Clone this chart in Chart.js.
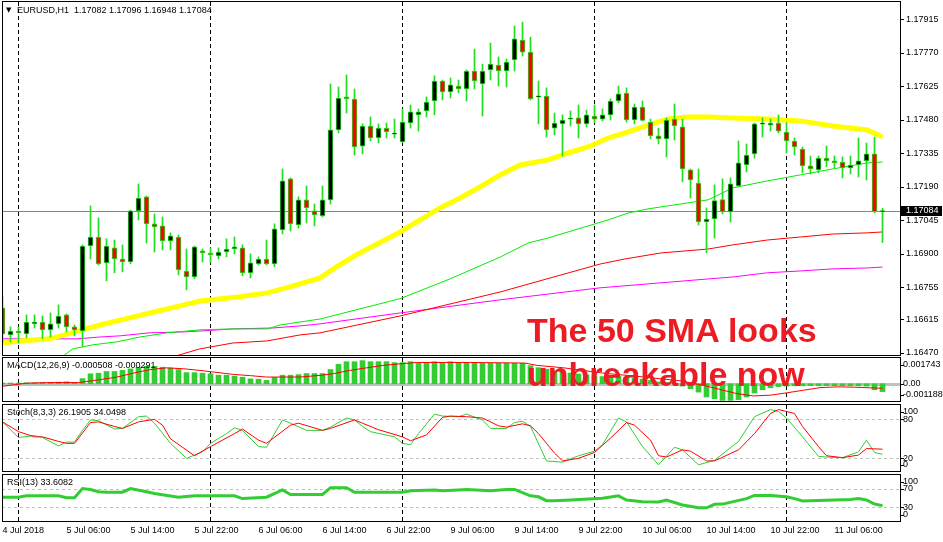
<!DOCTYPE html>
<html>
<head>
<meta charset="utf-8">
<title>EURUSD H1</title>
<script src="https://cdn.jsdelivr.net/npm/chart.js@4.4.1/dist/chart.umd.min.js"></script>
<style>
  html, body { margin: 0; padding: 0; background: #fff; }
  #stage { position: relative; width: 943px; height: 542px; overflow: hidden; background: #fff; }
  #stage canvas { position: absolute; left: 0; top: 0; }
  .note { position: absolute; left: 527px; font: bold 34px "Liberation Sans", Arial, sans-serif; color: #ec1c24; white-space: nowrap; line-height: 1; }
</style>
</head>
<body>
<div id="stage">
  <canvas id="main-chart" width="943" height="542"></canvas>
  <canvas id="macd-chart" width="943" height="542"></canvas>
  <canvas id="stoch-chart" width="943" height="542"></canvas>
  <canvas id="rsi-chart" width="943" height="542"></canvas>
  <div class="note" style="top:313px">The 50 SMA looks</div>
  <div class="note" style="top:357px">unbreakable now</div>
</div>
<script>
// bars: 4 Jul 22:00 .. 11 Jul 12:00, one per hour (index = bar number)
const open = [1.16665,1.16548,1.16565,1.16552,1.16596,1.16604,1.16570,1.16596,1.16635,1.16583,
  1.16565,1.16933,1.16972,1.16860,1.16925,1.16877,1.16864,1.17085,1.17146,1.17029,
  1.17020,1.16955,1.16972,1.16825,1.16799,1.16912,1.16903,1.16890,1.16907,1.16920,
  1.16925,1.16817,1.16856,1.16877,1.16856,1.17003,1.17224,1.17024,1.17133,1.17085,
  1.17063,1.17133,1.17436,1.17579,1.17570,1.17366,1.17453,1.17401,1.17444,1.17418,
  1.17384,1.17466,1.17501,1.17518,1.17561,1.17648,1.17600,1.17626,1.17613,1.17691,
  1.17635,1.17696,1.17717,1.17691,1.17739,1.17825,1.17773,1.17579,1.17583,1.17444,
  1.17462,1.17482,1.17488,1.17462,1.17496,1.17483,1.17501,1.17561,1.17596,1.17479,
  1.17535,1.17470,1.17410,1.17397,1.17483,1.17449,1.17263,1.17206,1.17037,1.17050,
  1.17134,1.17081,1.17193,1.17284,1.17332,1.17461,1.17457,1.17466,1.17427,1.17388,
  1.17353,1.17280,1.17263,1.17314,1.17302,1.17297,1.17271,1.17284,1.17302,1.17332,
  1.17082];
const high = [1.16713,1.16583,1.16583,1.16635,1.16635,1.16630,1.16643,1.16678,1.16639,1.16591,
  1.16938,1.17107,1.17055,1.16964,1.16959,1.16938,1.17089,1.17202,1.17150,1.17072,
  1.17059,1.16990,1.16981,1.16920,1.16933,1.16920,1.16925,1.16925,1.16964,1.16972,
  1.16938,1.16899,1.16886,1.16959,1.17029,1.17267,1.17228,1.17146,1.17193,1.17115,
  1.17193,1.17635,1.17622,1.17674,1.17613,1.17462,1.17492,1.17462,1.17466,1.17483,
  1.17527,1.17544,1.17527,1.17579,1.17670,1.17652,1.17661,1.17652,1.17696,1.17786,
  1.17721,1.17812,1.17752,1.17743,1.17886,1.17903,1.17838,1.17648,1.17618,1.17509,
  1.17501,1.17518,1.17544,1.17522,1.17544,1.17527,1.17570,1.17626,1.17618,1.17548,
  1.17561,1.17483,1.17444,1.17488,1.17548,1.17483,1.17267,1.17267,1.17098,1.17198,
  1.17224,1.17228,1.17388,1.17375,1.17466,1.17488,1.17483,1.17501,1.17466,1.17401,
  1.17362,1.17323,1.17323,1.17366,1.17323,1.17319,1.17323,1.17401,1.17379,1.17405,
  1.17096];
const low = [1.16518,1.16518,1.16513,1.16535,1.16578,1.16531,1.16539,1.16578,1.16561,1.16544,
  1.16496,1.16877,1.16851,1.16782,1.16817,1.16821,1.16856,1.17046,1.16946,1.16907,
  1.16916,1.16916,1.16808,1.16743,1.16791,1.16864,1.16860,1.16877,1.16886,1.16899,
  1.16804,1.16795,1.16851,1.16852,1.16843,1.16985,1.16998,1.17011,1.17033,1.17020,
  1.17059,1.17115,1.17423,1.17509,1.17327,1.17332,1.17388,1.17379,1.17401,1.17401,
  1.17380,1.17444,1.17431,1.17492,1.17501,1.17566,1.17574,1.17596,1.17561,1.17613,
  1.17496,1.17652,1.17626,1.17622,1.17691,1.17756,1.17566,1.17462,1.17405,1.17414,
  1.17323,1.17453,1.17401,1.17449,1.17466,1.17475,1.17479,1.17553,1.17470,1.17462,
  1.17475,1.17397,1.17375,1.17319,1.17392,1.17211,1.17141,1.17024,1.16903,1.16968,
  1.17072,1.17037,1.17189,1.17254,1.17314,1.17405,1.17431,1.17423,1.17336,1.17327,
  1.17250,1.17245,1.17250,1.17276,1.17271,1.17228,1.17245,1.17232,1.17219,1.17076,
  1.16948];
const close = [1.16552,1.16565,1.16557,1.16604,1.16604,1.16570,1.16596,1.16630,1.16583,1.16570,
  1.16933,1.16972,1.16856,1.16933,1.16877,1.16864,1.17085,1.17141,1.17029,1.17016,
  1.16955,1.16977,1.16830,1.16799,1.16929,1.16903,1.16894,1.16907,1.16920,1.16929,
  1.16817,1.16860,1.16877,1.16856,1.17007,1.17215,1.17029,1.17133,1.17098,1.17068,
  1.17133,1.17436,1.17574,1.17570,1.17362,1.17453,1.17401,1.17444,1.17427,1.17419,
  1.17470,1.17514,1.17514,1.17557,1.17648,1.17600,1.17631,1.17613,1.17691,1.17648,
  1.17691,1.17721,1.17691,1.17730,1.17830,1.17773,1.17570,1.17583,1.17436,1.17466,
  1.17479,1.17484,1.17462,1.17501,1.17483,1.17501,1.17561,1.17592,1.17479,1.17535,
  1.17477,1.17410,1.17397,1.17479,1.17453,1.17267,1.17219,1.17037,1.17050,1.17130,
  1.17081,1.17202,1.17293,1.17327,1.17462,1.17463,1.17466,1.17431,1.17388,1.17362,
  1.17280,1.17267,1.17314,1.17302,1.17293,1.17271,1.17284,1.17302,1.17332,1.17082,
  1.17084];

// moving averages: [bar, price]
const sma50 = [[0,1.16513],[2.2,1.16522],[5.9,1.16531],[10,1.16570],[12.2,1.16591],[15.9,1.16622],
  [18.4,1.16643],[22.2,1.16674],[24.7,1.16695],[29.7,1.16713],[33.1,1.16730],[35.9,1.16756],
  [39.7,1.16795],[41.7,1.16842],[44.2,1.16894],[49.7,1.16994],[54.7,1.17098],[57.2,1.17141],
  [59.7,1.17189],[62.2,1.17241],[64.7,1.17284],[68.2,1.17306],[70.7,1.17336],[73.2,1.17362],
  [75.7,1.17401],[78.2,1.17427],[80.7,1.17457],[83.2,1.17483],[85.7,1.17492],[88.2,1.17492],
  [91.3,1.17488],[95.6,1.17483],[99.7,1.17475],[103.8,1.17453],[108.1,1.17436],[110,1.17405]];
const maLime = [[7.5,1.16455],[8.8,1.16488],[11.3,1.16505],[14.3,1.16518],[17.2,1.16539],[20.6,1.16557],
  [24.7,1.16570],[28.8,1.16574],[33.1,1.16574],[34.7,1.16591],[37.2,1.16604],[39.7,1.16617],
  [49.7,1.16705],[55.9,1.16790],[62.2,1.16885],[65.7,1.16946],[68.2,1.16968],[70.7,1.16994],
  [73.2,1.17020],[75.7,1.17046],[78.2,1.17076],[80.7,1.17094],[83.2,1.17107],[85.7,1.17120],
  [88.2,1.17133],[91.3,1.17185],[95.6,1.17215],[99.7,1.17241],[103.8,1.17267],[108.1,1.17293],[110,1.17297]];
const maRed = [[21.5,1.16455],[24.6,1.16487],[28.8,1.16513],[33.1,1.16522],[37.2,1.16548],[39.7,1.16557],
  [49.7,1.16630],[62.2,1.16734],[74.7,1.16855],[77.8,1.16877],[82.3,1.16903],[88.2,1.16920],
  [91.3,1.16938],[95.6,1.16959],[99.7,1.16972],[103.8,1.16985],[108.1,1.16990],[110,1.16994]];
const maMagenta = [[-0.5,1.16531],[9.3,1.16531],[12.2,1.16539],[14.7,1.16544],[18.4,1.16557],[22.6,1.16561],
  [24.7,1.16565],[28.8,1.16574],[33.8,1.16578],[37.2,1.16587],[39.7,1.16596],[49.7,1.16643],
  [62.2,1.16700],[74.7,1.16752],[88.4,1.16791],[91.3,1.16799],[95.6,1.16817],[99.7,1.16825],
  [103.8,1.16834],[108.1,1.16838],[110,1.16842]];

// MACD(12,26,9)
const macdHist = [0.00005,0.00005,0.00005,0.00006,0.00006,0.00006,0.00006,0.00011,0.00013,0.00008,
  0.00034,0.00065,0.00069,0.00080,0.00080,0.00088,0.00097,0.00108,0.00114,0.00114,
  0.00108,0.00103,0.00093,0.00073,0.00073,0.00069,0.00065,0.00056,0.00056,0.00050,
  0.00043,0.00032,0.00030,0.00022,0.00041,0.00056,0.00056,0.00060,0.00067,0.00067,
  0.00067,0.00093,0.00127,0.00144,0.00144,0.00151,0.00144,0.00144,0.00144,0.00138,
  0.00138,0.00144,0.00134,0.00138,0.00144,0.00138,0.00144,0.00138,0.00138,0.00134,
  0.00134,0.00134,0.00134,0.00134,0.00134,0.00134,0.00118,0.00105,0.00095,0.00085,
  0.00078,0.00070,0.00064,0.00058,0.00052,0.00047,0.00046,0.00047,0.00040,0.00036,
  0.00030,0.00022,0.00012,0.00008,0.00002,-0.00015,-0.00032,-0.00054,-0.00086,-0.00097,
  -0.00108,-0.00108,-0.00103,-0.00086,-0.00060,-0.00039,-0.00026,-0.00018,-0.00015,-0.00013,
  -0.00013,-0.00012,-0.00012,-0.00012,-0.00012,-0.00013,-0.00013,-0.00013,-0.00015,-0.00039,
  -0.000508];
const macdSignal = [[0,-0.00016],[3,0.00004],[5.5,0.00008],[9.5,0.00008],[12.2,0.00027],[14.3,0.00044],
  [16.4,0.00070],[18.4,0.00092],[20.5,0.00104],[22.6,0.00098],[24.7,0.00087],[26.8,0.00074],
  [28.9,0.00061],[31,0.00053],[33,0.00044],[37.2,0.00044],[39.7,0.00055],[41.4,0.00066],
  [43.4,0.00087],[45.5,0.00104],[47.6,0.00120],[49.7,0.00130],[51.8,0.00139],[58.4,0.00139],
  [65.3,0.00135],[66.8,0.00120],[70,0.00105],[75,0.00070],[80,0.00045],[85,0.00018],[88,-0.00015],
  [91.8,-0.00064],[93.9,-0.00079],[96,-0.00074],[98,-0.00059],[100.1,-0.00042],[102.2,-0.00025],
  [104.3,-0.00020],[106.4,-0.00022],[110,-0.000291]];

// Stochastic(8,3,3)
const stochMain = [[0,76],[2,52],[4,55],[5,52],[7,39],[8,45],[9,45],[10,63],[11,79],[12,78],[14,65],[15,66],
  [17,84],[18,85],[19,74],[21,43],[23,20],[25,30],[26,43],[28,58],[29,67],[30,63],[32,38],[33,37],
  [35,79],[36,74],[38,63],[40,63],[41,68],[43,82],[44,79],[45,69],[46,61],[49,53],[50,43],[51,41],
  [52,58],[54,88],[55,85],[57,84],[58,88],[60,79],[61,66],[63,66],[64,75],[65,77],[66,69],[68,16],
  [70,14],[72,24],[74,31],[75,41],[77,82],[78,76],[80,38],[82,10],[84,37],[85,33],[87,10],[89,17],
  [92,46],[94,84],[96,95],[97,92],[98,82],[100,53],[102,23],[103,22],[105,21],[107,30],[108,48],
  [109,29],[110,26.1905]];
const stochSignal = [[0,76],[2,61],[4,53],[5,53],[7,46],[8,43],[9,43],[11,75],[12,76],[14,69],[15,66],
  [17,76],[19,80],[20,71],[21,50],[24,24],[26,38],[29,58],[30,65],[32,48],[33,43],[36,71],[37,74],
  [40,63],[41,66],[44,79],[45,74],[47,64],[50,53],[51,47],[53,56],[55,83],[56,85],[58,84],[60,82],
  [62,70],[63,68],[65,73],[66,70],[67,58],[69,28],[70,16],[72,20],[74,29],[76,51],[78,75],[79,71],
  [81,48],[82,24],[83,22],[85,33],[86,31],[88,16],[89,16],[92,33],[94,58],[96,89],[97,95],[99,89],
  [100,69],[102,38],[103,24],[105,21],[107,25],[108,35],[110,34.0498]];

// RSI(13)
const rsi = [[0,52],[2,52],[3,55],[7,55],[8,51],[9,51],[10,71],[11,69],[12,64],[13,63],[15,63],[16,71],
  [18,64],[19,60],[22,52],[24,55],[29,55],[30,49],[33,52],[35,68],[36,58],[40,58],[41,73],[43,73],
  [44,63],[50,63],[51,66],[54,68],[55,66],[57,68],[58,69],[61,66],[63,69],[64,69],[66,55],[67,53],
  [68,44.5],[69,44.5],[71,46],[75,49.6],[77,55],[78,46],[80,42],[82,41.6],[83,46],[85,35],[87,29],
  [88,29],[89,36.5],[90,37],[93,49],[94,56],[96,56],[98,53],[99,49],[100,44],[104,46],[106,47],
  [107,49],[108,46],[109,37],[110,33.6082]];

// axes
const priceTicks = [1.17915,1.17770,1.17625,1.17480,1.17335,1.17190,1.17045,1.16900,1.16755,1.16615,1.16470];
const macdTicks = [0.001743, 0, -0.001188];
const macdTickText = ['0.001743', '0.00', '-0.001188'];
const stochTicks = [100, 80, 20, 0];
const rsiTicks = [100, 70, 30, 0];
const timeLabelBars = [0, 8, 16, 24, 32, 40, 48, 56, 64, 72, 80, 88, 96, 104];
const timeLabels = ['4 Jul 2018', '5 Jul 06:00', '5 Jul 14:00', '5 Jul 22:00', '6 Jul 06:00', '6 Jul 14:00',
  '6 Jul 22:00', '9 Jul 06:00', '9 Jul 14:00', '9 Jul 22:00', '10 Jul 06:00', '10 Jul 14:00',
  '10 Jul 22:00', '11 Jul 06:00'];
const daySeparators = [2, 26, 50, 74, 98];

const PAGE_W = 943, PAGE_H = 542, AREA_LEFT = 2, AREA_RIGHT = 900;
const X_MIN = -0.0625, X_MAX = 112.1875;
const FONT = '9px "Liberation Sans", Arial, sans-serif';
const CANDLE_LINE = '#22dd22';
const LIME = '#32cd32';

const last = close.length - 1;

const mtDecor = {
  id: 'mtDecor',
  beforeDatasetsDraw(chart, args, opts) {
    const { ctx, chartArea: a, scales } = chart;
    ctx.save();
    ctx.beginPath();
    ctx.rect(a.left, a.top, a.right - a.left, a.bottom - a.top);
    ctx.clip();
    for (const level of opts.levels || []) {
      const w = level.width || 1;
      const y = Math.round(scales.y.getPixelForValue(level.value)) + (w % 2 ? 0.5 : 0);
      ctx.lineWidth = w;
      ctx.strokeStyle = level.color;
      ctx.setLineDash(level.dash || []);
      ctx.beginPath();
      ctx.moveTo(a.left, y);
      ctx.lineTo(a.right, y);
      ctx.stroke();
    }
    ctx.strokeStyle = '#000';
    ctx.lineWidth = 1;
    ctx.setLineDash([4, 3]);
    for (const i of daySeparators) {
      const x = Math.floor(scales.x.getPixelForValue(i)) + 0.5;
      ctx.beginPath();
      ctx.moveTo(x, a.top);
      ctx.lineTo(x, a.bottom);
      ctx.stroke();
    }
    ctx.restore();
  },
  afterDraw(chart, args, opts) {
    const { ctx, chartArea: a, scales } = chart;
    ctx.save();
    ctx.strokeStyle = '#000';
    ctx.lineWidth = 1;
    ctx.strokeRect(a.left + 0.5, a.top - 0.5, a.right - a.left, a.bottom - a.top + 1);

    ctx.font = FONT;
    ctx.textBaseline = 'middle';
    ctx.textAlign = 'left';
    ctx.fillStyle = '#000';
    (opts.ticks || []).forEach((v, k) => {
      let y = scales.y.getPixelForValue(v);
      if (opts.clamp) y = Math.min(Math.max(y, a.top + 6.5), a.bottom - 6.5);
      const ty = Math.round(y) + 0.5;
      ctx.beginPath();
      ctx.moveTo(a.right + 1, ty);
      ctx.lineTo(a.right + 4, ty);
      ctx.stroke();
      ctx.fillText(opts.tickText ? opts.tickText[k] : String(v), opts.tickX, y);
    });

    if (opts.marker != null) {
      const y = Math.round(scales.y.getPixelForValue(opts.marker));
      ctx.fillStyle = '#000';
      ctx.fillRect(a.right + 1, y - 5, 41, 10);
      ctx.fillStyle = '#fff';
      ctx.fillText(opts.marker.toFixed(5), opts.tickX, y);
      ctx.fillStyle = '#000';
    }

    if (opts.title) {
      let x = 7;
      if (opts.arrow) {
        ctx.font = '7px "DejaVu Sans", sans-serif';
        ctx.fillText('▼', 6, opts.titleY);
        ctx.font = FONT;
        x = 17;
      }
      ctx.fillText(opts.title, x, opts.titleY);
    }

    if (opts.timeAxis) {
      timeLabelBars.forEach((b, k) => {
        const x = scales.x.getPixelForValue(b);
        ctx.fillText(timeLabels[k], x, 531);
      });
    }
    ctx.restore();
  },
};

function lineSet(points, color, width, order) {
  return {
    type: 'line',
    data: points.map(([x, y]) => ({ x, y })),
    borderColor: color,
    borderWidth: width,
    pointRadius: 0,
    tension: 0,
    fill: false,
    clip: 0,
    order,
  };
}

function panel(canvasId, area, yRange, datasets, decor) {
  return new Chart(document.getElementById(canvasId), {
    type: 'bar',
    data: { datasets },
    options: {
      responsive: false,
      animation: false,
      devicePixelRatio: 1,
      events: [],
      layout: { padding: { left: AREA_LEFT, right: PAGE_W - AREA_RIGHT, top: area[0], bottom: PAGE_H - area[1] } },
      scales: {
        x: { type: 'linear', min: X_MIN, max: X_MAX, offset: false, display: false },
        y: { type: 'linear', min: yRange[0], max: yRange[1], display: false },
      },
      plugins: { legend: { display: false }, tooltip: { enabled: false }, mtDecor: decor },
    },
    plugins: [mtDecor],
  });
}

// price panel
panel('main-chart', [2, 355], [1.16461, 1.17990], [
  {
    type: 'bar',
    data: open.map((o, i) => ({ x: i, y: [o, close[i]] })),
    backgroundColor: open.map((o, i) => (close[i] >= o ? '#000000' : '#ff0000')),
    borderColor: CANDLE_LINE,
    borderWidth: 1,
    borderSkipped: false,
    barThickness: 5,
    minBarLength: 1,
    grouped: false,
    clip: 0,
    order: 0,
  },
  {
    type: 'bar',
    data: open.map((o, i) => ({ x: i, y: [low[i], high[i]] })),
    backgroundColor: CANDLE_LINE,
    borderWidth: 0,
    barThickness: 1,
    grouped: false,
    clip: 0,
    order: 1,
  },
  lineSet(sma50, '#ffff00', 5, 2),
  lineSet(maLime, '#00ee00', 1, 3),
  lineSet(maRed, '#ff0000', 1, 4),
  lineSet(maMagenta, '#ff00ff', 1, 5),
], {
  levels: [{ value: close[last], color: '#778899', width: 1 }],
  ticks: priceTicks,
  tickText: priceTicks.map((v) => v.toFixed(5)),
  tickX: 906,
  marker: close[last],
  title: `EURUSD,H1  ${open[last].toFixed(5)} ${high[last].toFixed(5)} ${low[last].toFixed(5)} ${close[last].toFixed(5)}`,
  titleY: 10.5,
  arrow: true,
});

// MACD panel
panel('macd-chart', [358, 401], [-0.00112, 0.00168], [
  {
    type: 'bar',
    data: macdHist.map((v, i) => ({ x: i, y: v })),
    backgroundColor: LIME,
    borderWidth: 0,
    barThickness: 5,
    grouped: false,
    clip: 0,
    order: 1,
  },
  lineSet(macdSignal, '#ff0000', 1, 0),
], {
  levels: [{ value: 0, color: '#c0c0c0', width: 3 }],
  ticks: macdTicks,
  tickText: macdTickText,
  clamp: true,
  tickX: 903,
  title: `MACD(12,26,9) ${macdHist[last].toFixed(6)} ${macdSignal[macdSignal.length - 1][1].toFixed(6)}`,
  titleY: 366,
});

// Stochastic panel
panel('stoch-chart', [405, 471], [0.5, 102], [
  lineSet(stochSignal, '#ff0000', 1, 0),
  lineSet(stochMain, LIME, 1, 1),
], {
  levels: [{ value: 80, color: '#c0c0c0', width: 1, dash: [3, 3] }, { value: 20, color: '#c0c0c0', width: 1, dash: [3, 3] }],
  ticks: stochTicks,
  clamp: true,
  tickX: 903,
  title: `Stoch(8,3,3) ${stochMain[stochMain.length - 1][1].toFixed(4)} ${stochSignal[stochSignal.length - 1][1].toFixed(4)}`,
  titleY: 413,
});

// RSI panel
panel('rsi-chart', [475, 521], [0.05, 100.6], [
  lineSet(rsi, LIME, 3, 0),
], {
  levels: [{ value: 70, color: '#c0c0c0', width: 1, dash: [3, 3] }, { value: 30, color: '#c0c0c0', width: 1, dash: [3, 3] }],
  ticks: rsiTicks,
  clamp: true,
  tickX: 903,
  title: `RSI(13) ${rsi[rsi.length - 1][1].toFixed(4)}`,
  titleY: 483,
  timeAxis: true,
});
</script>
</body>
</html>
